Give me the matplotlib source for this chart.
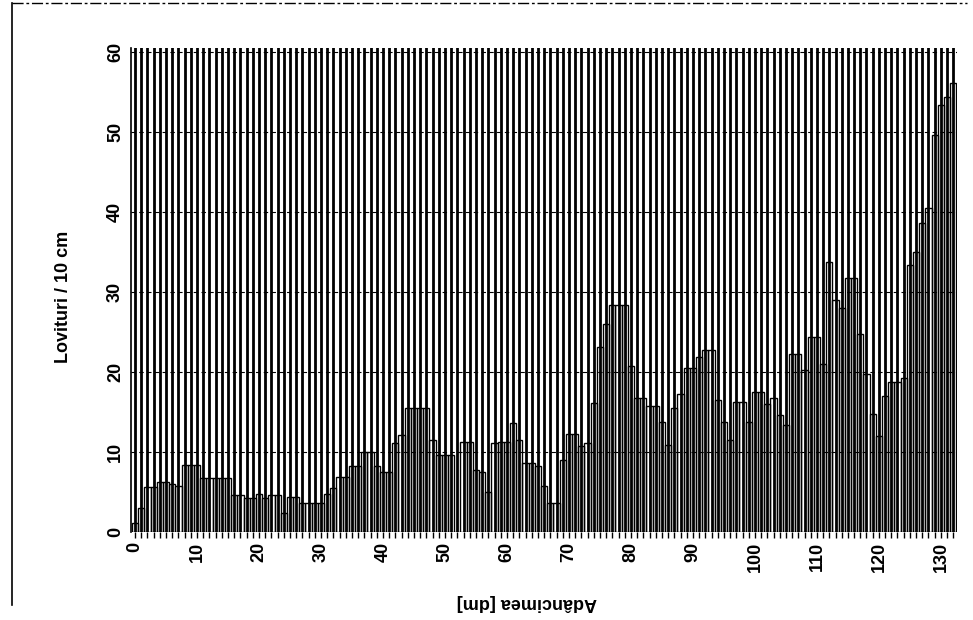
import numpy as np
import matplotlib
matplotlib.use("Agg")
import matplotlib.pyplot as plt
from matplotlib.lines import Line2D

# blows per 10 cm, one value per dm of depth (0 .. 132)
lovituri = [1.1, 3.0, 5.6, 5.6, 6.3, 6.3, 6.0, 5.8, 8.4, 8.4,
            8.4, 6.7, 6.7, 6.7, 6.7, 6.7, 4.6, 4.6, 4.2, 4.2,
            4.8, 4.2, 4.6, 4.6, 2.4, 4.4, 4.4, 3.6, 3.6, 3.6,
            3.6, 4.8, 5.5, 6.9, 6.9, 8.2, 8.2, 10.0, 10.0, 8.2,
            7.5, 7.5, 11.1, 12.1, 15.5, 15.5, 15.5, 15.5, 11.5, 9.6,
            9.6, 9.6, 0.0, 11.3, 11.3, 7.8, 7.5, 5.0, 11.1, 11.3,
            11.3, 13.6, 11.5, 8.6, 8.6, 8.2, 5.7, 3.6, 3.6, 9.0,
            12.3, 12.3, 10.8, 11.1, 16.1, 23.1, 26.0, 28.4, 28.4, 28.4,
            20.7, 16.7, 16.7, 15.7, 15.7, 13.8, 10.9, 15.5, 17.3, 20.5,
            20.5, 21.9, 22.7, 22.7, 16.5, 13.7, 11.5, 16.3, 16.3, 13.7,
            17.5, 17.5, 16.0, 16.7, 14.6, 13.4, 22.3, 22.3, 20.3, 24.4,
            24.4, 21.0, 33.8, 29.0, 28.0, 31.7, 31.7, 24.8, 19.8, 14.8,
            12.0, 17.0, 18.7, 18.7, 19.3, 33.4, 35.0, 38.6, 40.5, 49.6,
            53.4, 54.4, 56.1]
adancime = np.arange(len(lovituri))

x_ticks = list(range(0, 131, 10))
y_ticks = list(range(0, 61, 10))

plt.rcParams['font.family'] = ['Liberation Sans', 'DejaVu Sans']

fig = plt.figure(figsize=(9.73, 6.2), dpi=100)
W, H = 973, 620
ax = fig.add_axes([131 / W, 1 - 532 / H, (957 - 131) / W, (532 - 48) / H])

# dense vertical lines behind the bars (one per dm, as in the scanned chart)
for d in adancime:
    ax.axvline(d, color="black", lw=2.0, zorder=1)

ax.bar(adancime, lovituri, width=1.0, facecolor="none", edgecolor="black",
       linewidth=1.0, zorder=2)

# dashed horizontal grid
for y in y_ticks[1:]:
    ax.axhline(y, color="black", lw=0.8, ls=(0, (4, 3)), zorder=3)

ax.set_xlim(-0.65, 132.6)
ax.set_ylim(0, 60.5)

ax.set_xticks(x_ticks)
ax.set_xticks(adancime, minor=True)
ax.set_xticklabels([str(v) for v in x_ticks], rotation=90,
                   fontsize=13, fontweight="bold")
ax.tick_params(axis="x", which="both", direction="out", length=4, width=1,
               pad=3)

ax.set_yticks(y_ticks)
ax.set_yticklabels([str(v) for v in y_ticks], rotation=90, va="center",
                   fontsize=13, fontweight="bold")
ax.tick_params(axis="y", length=0, pad=5)

for side in ["top", "right"]:
    ax.spines[side].set_visible(False)
ax.spines["left"].set_linewidth(1.2)
ax.spines["bottom"].set_visible(False)

fig.text(63 / W, 1 - 297 / H, "Lovituri / 10 cm", rotation=90,
         ha="center", va="center", fontsize=13, fontweight="bold")
fig.text(527 / W, 1 - 603 / H, "Adâncimea [dm]", rotation=180,
         ha="center", va="center", fontsize=13, fontweight="bold")

# frame lines of the scanned page
fig.add_artist(Line2D([12 / W, 12 / W], [1 - 3 / H, 1 - 605 / H],
                      transform=fig.transFigure, color="black", lw=1.2))
fig.add_artist(Line2D([12 / W, 967 / W], [1 - 3 / H, 1 - 3 / H],
                      transform=fig.transFigure, color="black", lw=1.0,
                      ls=(0, (8, 2, 2, 2))))

fig.savefig("out.png", dpi=100)
